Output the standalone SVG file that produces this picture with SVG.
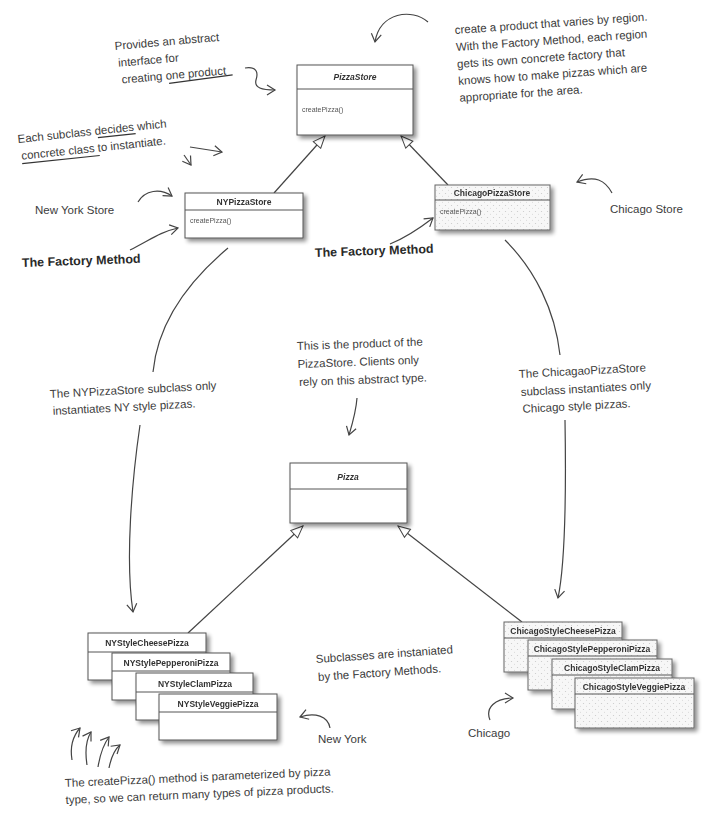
<svg xmlns="http://www.w3.org/2000/svg" width="703" height="825" viewBox="0 0 703 825">
<style>
.hand{font-family:"Liberation Sans","DejaVu Sans",sans-serif;font-size:11.5px;fill:#3c3c3c}
.fm{font-family:"Liberation Sans","DejaVu Sans",sans-serif;font-size:12.5px;font-weight:bold;fill:#2a2a2a}
.cls{font-family:"Liberation Sans",Arial,sans-serif;font-size:8.5px;font-weight:bold;fill:#333}
.meth{font-family:"Liberation Sans",Arial,sans-serif;font-size:7px;fill:#555}
.box{fill:#fff;stroke:#555;stroke-width:1}
.dbox{fill:url(#dots);stroke:#666;stroke-width:1}
.div{stroke:#555;stroke-width:1}
.inh{stroke:#444;stroke-width:1.2;fill:none;marker-end:url(#tri)}
.ha{stroke:#444;stroke-width:1.2;fill:none;marker-end:url(#open)}
.hl{stroke:#444;stroke-width:1.2;fill:none}
.ul{stroke:#333;stroke-width:1.2;fill:none}
</style>
<defs>
<filter id="sh" x="-10%" y="-10%" width="130%" height="140%">
<feGaussianBlur in="SourceAlpha" stdDeviation="2"/>
<feOffset dx="3" dy="3" result="b"/>
<feComponentTransfer><feFuncA type="linear" slope="0.45"/></feComponentTransfer>
<feMerge><feMergeNode/><feMergeNode in="SourceGraphic"/></feMerge>
</filter>
<pattern id="dots" width="6" height="6" patternUnits="userSpaceOnUse">
<rect width="6" height="6" fill="#f7f7f7"/>
<circle cx="1.5" cy="1.5" r="0.6" fill="#c8c8c8"/>
<circle cx="4.5" cy="4.2" r="0.5" fill="#d2d2d2"/>
</pattern>
<marker id="tri" markerWidth="14" markerHeight="12" refX="13" refY="6" orient="auto" markerUnits="userSpaceOnUse">
<path d="M1,1 L13,6 L1,11 z" fill="#fff" stroke="#444" stroke-width="1"/>
</marker>
<marker id="open" markerWidth="12" markerHeight="12" refX="9" refY="6" orient="auto" markerUnits="userSpaceOnUse">
<path d="M1,1 L9,6 L1,11" fill="none" stroke="#444" stroke-width="1.2"/>
</marker>
</defs>
<rect width="703" height="825" fill="#fff"/>

<g id="connectors">
<line class="inh" x1="274" y1="193" x2="325" y2="136"/>
<line class="inh" x1="448" y1="185" x2="401" y2="136"/>
<line class="inh" x1="188" y1="633" x2="303" y2="526"/>
<line class="inh" x1="522" y1="622" x2="398" y2="526"/>
<path class="hl" d="M228,248 C190,280 158,320 153,372"/>
<path class="ha" d="M140,425 C132,480 125,560 133,612"/>
<path class="hl" d="M505,240 C535,270 555,310 560,355"/>
<path class="ha" d="M565,420 C566,480 566,560 558,598"/>
<path class="ha" d="M428,22 C412,8 380,12 375,42"/>
<path class="ha" d="M245,68 C258,66 258,74 256,80 C254,88 262,90 275,90"/>
<path class="ha" d="M190,147 L222,152"/>
<path class="ha" d="M184,155 L191,165"/>
<path class="ha" d="M138,202 C145,190 160,188 172,196"/>
<path class="ha" d="M130,250 C150,240 160,232 178,228"/>
<path class="ha" d="M390,244 C405,238 420,228 433,218"/>
<path class="ha" d="M612,193 C605,180 595,175 577,182"/>
<path class="ha" d="M357,398 C356,412 352,425 349,435"/>
<path class="ha" d="M330,728 C328,716 315,712 300,717"/>
<path class="ha" d="M490,720 C485,708 495,698 513,698"/>
<path class="ha" d="M72,760 C70,748 73,736 80,728"/>
<path class="ha" d="M87,765 C85,752 86,740 91,732"/>
<path class="ha" d="M98,767 C100,755 103,745 109,737"/>
<path class="ha" d="M109,768 C111,758 114,750 120,745"/>
</g>

<g id="PizzaStore" filter="url(#sh)">
<rect class="box" x="297" y="65" width="116" height="70"/>
<line class="div" x1="297" y1="89" x2="413" y2="89"/>
<text class="cls" x="355" y="80" text-anchor="middle" font-style="italic">PizzaStore</text>
<text class="meth" x="302" y="112">createPizza()</text>
</g>

<g id="NYPizzaStore" filter="url(#sh)">
<rect class="box" x="185" y="193" width="118" height="45"/>
<line class="div" x1="185" y1="210" x2="303" y2="210"/>
<text class="cls" x="244" y="205" text-anchor="middle">NYPizzaStore</text>
<text class="meth" x="190" y="223">createPizza()</text>
</g>

<g id="ChicagoPizzaStore" filter="url(#sh)">
<rect class="dbox" x="435" y="185" width="115" height="45"/>
<line class="div" x1="435" y1="200" x2="550" y2="200"/>
<text class="cls" x="492" y="196" text-anchor="middle" font-weight="normal">ChicagoPizzaStore</text>
<text class="meth" x="440" y="214">createPizza()</text>
</g>

<g id="Pizza" filter="url(#sh)">
<rect class="box" x="290" y="463" width="117" height="60"/>
<line class="div" x1="290" y1="489" x2="407" y2="489"/>
<text class="cls" x="348" y="480" text-anchor="middle" font-style="italic">Pizza</text>
</g>

<g id="NYStyleCheesePizza" filter="url(#sh)">
<rect class="box" x="88" y="633" width="118" height="47"/>
<line class="div" x1="88" y1="652" x2="206" y2="652"/>
<text class="cls" x="147" y="646" text-anchor="middle">NYStyleCheesePizza</text>
</g>
<g id="NYStylePepperoniPizza" filter="url(#sh)">
<rect class="box" x="112" y="653" width="118" height="47"/>
<line class="div" x1="112" y1="671" x2="230" y2="671"/>
<text class="cls" x="171" y="666" text-anchor="middle">NYStylePepperoniPizza</text>
</g>
<g id="NYStyleClamPizza" filter="url(#sh)">
<rect class="box" x="136" y="673" width="117" height="47"/>
<line class="div" x1="136" y1="692" x2="253" y2="692"/>
<text class="cls" x="195" y="687" text-anchor="middle">NYStyleClamPizza</text>
</g>
<g id="NYStyleVeggiePizza" filter="url(#sh)">
<rect class="box" x="159" y="694" width="118" height="46"/>
<line class="div" x1="159" y1="712" x2="277" y2="712"/>
<text class="cls" x="218" y="707" text-anchor="middle">NYStyleVeggiePizza</text>
</g>

<g id="ChicagoStyleCheesePizza" filter="url(#sh)">
<rect class="dbox" x="504" y="622" width="118" height="50"/>
<line class="div" x1="504" y1="638" x2="622" y2="638"/>
<text class="cls" x="563" y="634" text-anchor="middle" font-size="8">ChicagoStyleCheesePizza</text>
</g>
<g id="ChicagoStylePepperoniPizza" filter="url(#sh)">
<rect class="dbox" x="528" y="640" width="129" height="50"/>
<line class="div" x1="528" y1="656" x2="657" y2="656"/>
<text class="cls" x="592" y="652" text-anchor="middle" font-size="8">ChicagoStylePepperoniPizza</text>
</g>
<g id="ChicagoStyleClamPizza" filter="url(#sh)">
<rect class="dbox" x="552" y="659" width="120" height="50"/>
<line class="div" x1="552" y1="675" x2="672" y2="675"/>
<text class="cls" x="612" y="671" text-anchor="middle" font-size="8">ChicagoStyleClamPizza</text>
</g>
<g id="ChicagoStyleVeggiePizza" filter="url(#sh)">
<rect class="dbox" x="575" y="678" width="119" height="50"/>
<line class="div" x1="575" y1="694" x2="694" y2="694"/>
<text class="cls" x="634" y="690" text-anchor="middle" font-size="8">ChicagoStyleVeggiePizza</text>
</g>

<g id="notes">
<g transform="rotate(-5 115 50)">
<text class="hand" x="115" y="50">Provides an abstract</text>
<text class="hand" x="117" y="67">interface for</text>
<text class="hand" x="119" y="84">creating one product</text>
<path class="ul" d="M166,88 C190,87 210,86 230,85"/>
</g>
<g transform="rotate(-6 18 143)">
<text class="hand" x="18" y="143">Each subclass decides which</text>
<path class="ul" d="M98,146 L136,146"/>
<text class="hand" x="20" y="160">concrete class to instantiate.</text>
<path class="ul" d="M20,164 L98,164"/>
</g>
<text class="hand" x="35" y="214">New York Store</text>
<text class="fm" x="22" y="267" transform="rotate(-2 22 267)">The Factory Method</text>
<text class="fm" x="315" y="257" transform="rotate(-2 315 257)">The Factory Method</text>
<text class="hand" x="610" y="213">Chicago Store</text>
<g transform="rotate(-4 455 34)">
<text class="hand" x="455" y="34">create a product that varies by region.</text>
<text class="hand" x="455" y="51">With the Factory Method, each region</text>
<text class="hand" x="455" y="68">gets its own concrete factory that</text>
<text class="hand" x="455" y="85">knows how to make pizzas which are</text>
<text class="hand" x="455" y="102">appropriate for the area.</text>
</g>
<g transform="rotate(-3 50 398)">
<text class="hand" x="50" y="398">The NYPizzaStore subclass only</text>
<text class="hand" x="52" y="415">instantiates NY style pizzas.</text>
</g>
<g transform="rotate(-2 297 350)">
<text class="hand" x="297" y="350">This is the product of the</text>
<text class="hand" x="297" y="368">PizzaStore.  Clients only</text>
<text class="hand" x="298" y="386">rely on this abstract type.</text>
</g>
<g transform="rotate(-3 519 378)">
<text class="hand" x="519" y="378">The ChicagaoPizzaStore</text>
<text class="hand" x="520" y="396">subclass instantiates only</text>
<text class="hand" x="521" y="413">Chicago style pizzas.</text>
</g>
<g transform="rotate(-4 316 663)">
<text class="hand" x="316" y="663">Subclasses are instaniated</text>
<text class="hand" x="317" y="681">by the Factory Methods.</text>
</g>
<text class="hand" x="318" y="743">New York</text>
<text class="hand" x="468" y="737">Chicago</text>
<g transform="rotate(-2.5 65 787)">
<text class="hand" x="65" y="787">The createPizza() method is parameterized by pizza</text>
<text class="hand" x="65" y="804">type, so we can return many types of pizza products.</text>
</g>
</g>
</svg>
